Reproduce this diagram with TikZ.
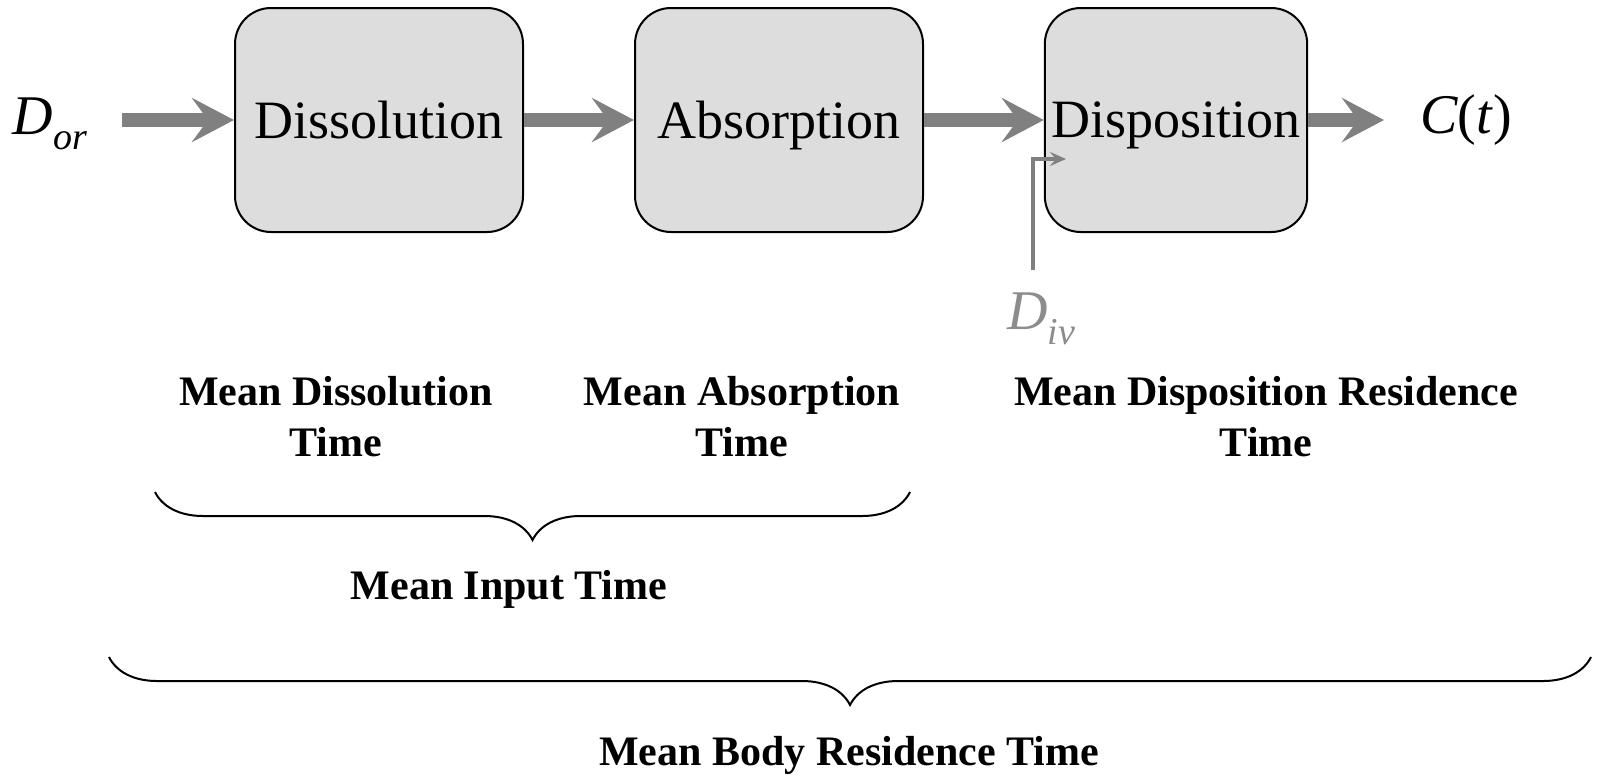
\documentclass[tikz,border=0pt]{standalone}
\usepackage{fontspec}
\setmainfont{Liberation Serif}
\usetikzlibrary{arrows.meta,decorations.pathreplacing}

\definecolor{boxgray}{RGB}{221,221,221}
\definecolor{arrowgray}{RGB}{128,128,128}
\definecolor{ivgray}{RGB}{140,140,140}

\newcommand{\lowsub}[1]{\raisebox{-0.6ex}{\fontsize{19}{19}\selectfont\itshape #1}}

\tikzset{
  stage/.style={draw, line width=1pt, fill=boxgray, rounded corners=18pt,
    minimum width=144pt, minimum height=112pt, text depth=0pt,
    font=\fontsize{27}{27}\selectfont},
  flow/.style={draw=arrowgray, line width=7pt,
    -{Stealth[length=21pt,width=22pt,inset=8pt]}},
  ivflow/.style={draw=arrowgray, line width=2.2pt,
    -{Stealth[length=8pt,width=7pt,inset=3pt]}},
  dose/.style={inner sep=0pt, font=\fontsize{28}{28}\selectfont},
  timelabel/.style={inner sep=0pt, align=center,
    font=\bfseries\fontsize{21}{25.5}\selectfont},
  underbrace/.style={decorate, line width=1pt,
    decoration={brace, mirror, amplitude=24pt}},
}

\begin{document}
\begin{tikzpicture}[x=0.5pt, y=-0.5pt]
  \useasboundingbox (0,0) rectangle (1598,778);

  % Stages
  \node[stage] (dissolution) at (379,120) {Dissolution};
  \node[stage] (absorption)  at (779,120) {Absorption};
  \node[stage, minimum width=129.5pt] (disposition) at (1176,120) {Disposition};

  % Doses and output
  \node[dose] (Dor) at (50,124) {\textit{D}\lowsub{or}};
  \node[dose] (Ct)  at (1466,120) {\textit{C}(\textit{t})};
  \node[dose, text=ivgray, anchor=north] (Div) at (1041,292) {\textit{D}\lowsub{iv}};

  \coordinate (orin)  at (122,120);
  \coordinate (ctout) at (1384,120);
  \coordinate (ivin)  at (1066,159);

  \draw[flow] (orin) -- (dissolution.west);
  \draw[flow] (dissolution.east) -- (absorption.west);
  \draw[flow] (absorption.east) -- (disposition.west);
  \draw[flow] (disposition.east) -- (ctout);
  \draw[ivflow, shorten <=11pt] ([xshift=-4pt]Div.north) |- (ivin);

  % Times
  \node[timelabel] (mdt)  at (336,417) {Mean Dissolution\\Time};
  \node[timelabel] (mat)  at (742,417) {Mean Absorption\\Time};
  \node[timelabel] (mdrt) at (1266,417) {Mean Disposition Residence\\Time};

  \draw[underbrace] (155,492) -- (910,492);
  \node[timelabel] (mit) at (509,589) {Mean Input Time};

  \draw[underbrace] (109,657) -- (1591,657);
  \node[timelabel] (mbrt) at (849,755) {Mean Body Residence Time};
\end{tikzpicture}
\end{document}
